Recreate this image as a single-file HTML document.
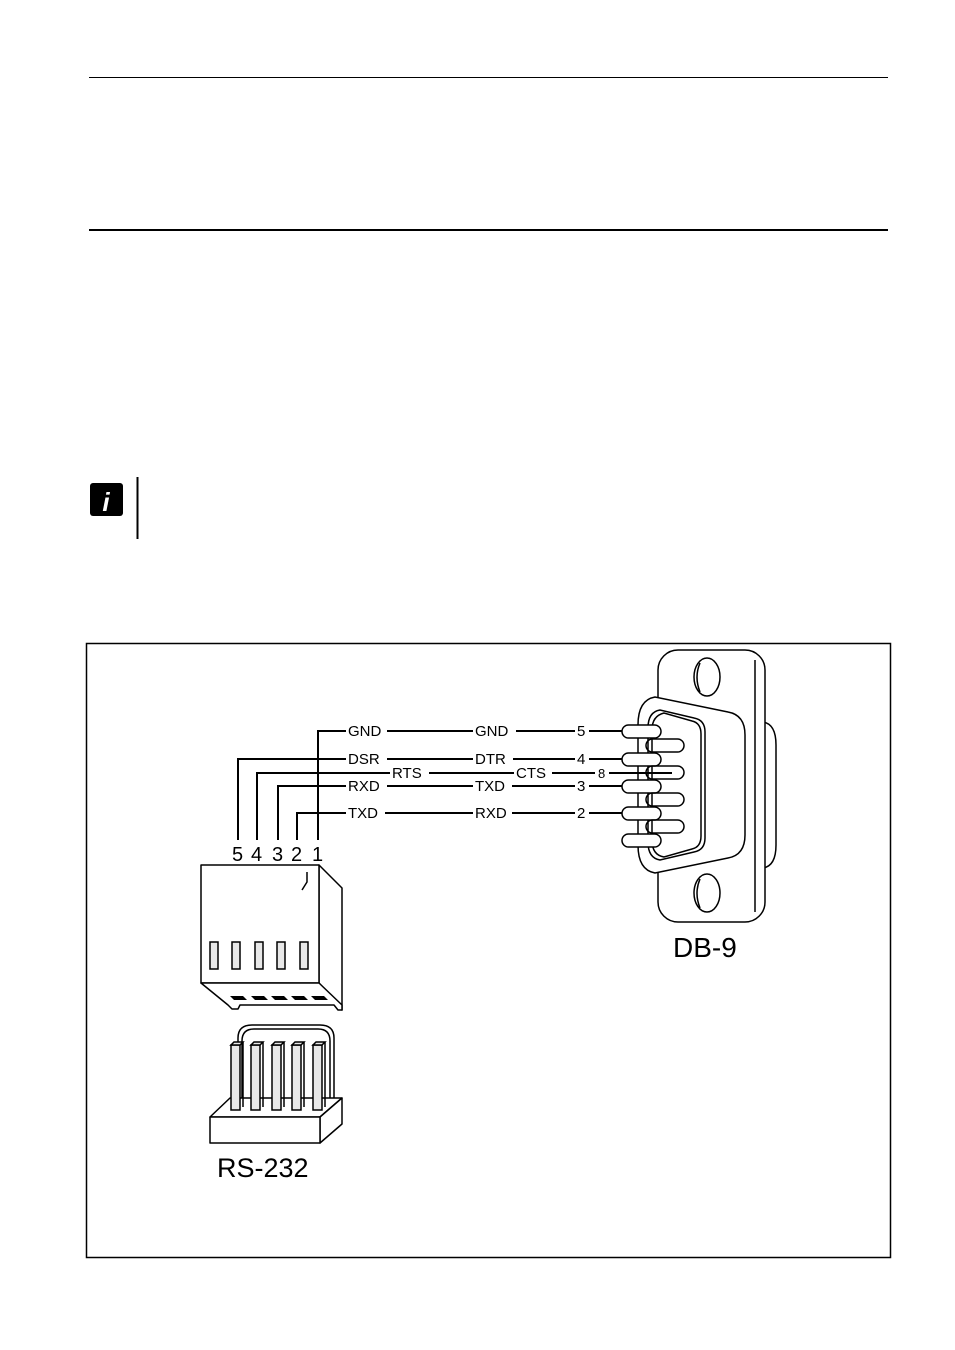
<!DOCTYPE html>
<html><head><meta charset="utf-8"><style>
html,body{margin:0;padding:0;background:#fff;}
body{width:955px;height:1350px;overflow:hidden;}
svg{display:block;}
text{font-family:"Liberation Sans",Arial,sans-serif;fill:#000;}
</style></head><body>
<svg width="955" height="1350" viewBox="0 0 955 1350" xmlns="http://www.w3.org/2000/svg">
<rect width="955" height="1350" fill="#fff"/>
<line x1="89" y1="77.5" x2="888" y2="77.5" stroke="#000" stroke-width="1"/>
<line x1="89" y1="230" x2="888" y2="230" stroke="#000" stroke-width="2"/>
<rect x="90" y="483" width="33" height="33" rx="3" fill="#000"/>
<text x="106" y="511" font-family="Liberation Serif" font-style="italic" font-weight="bold" font-size="26" text-anchor="middle" style="fill:#fff">i</text>
<line x1="137.5" y1="477" x2="137.5" y2="539" stroke="#000" stroke-width="2"/>
<rect x="86.5" y="643.5" width="804" height="614" fill="none" stroke="#000" stroke-width="1.5"/>

<g stroke="#000" stroke-width="2" fill="none">
<polyline points="318,840 318,731 346,731"/>
<line x1="387" y1="731" x2="473" y2="731"/><line x1="516" y1="731" x2="575" y2="731"/><line x1="589" y1="731" x2="625" y2="731"/>
<polyline points="238,840 238,759 346,759"/>
<line x1="387" y1="759" x2="473" y2="759"/><line x1="513" y1="759" x2="575" y2="759"/><line x1="589" y1="759" x2="625" y2="759"/>
<polyline points="257,840 257,773 390,773"/>
<line x1="429" y1="773" x2="514" y2="773"/><line x1="552" y1="773" x2="595" y2="773"/><line x1="609" y1="773" x2="672" y2="773"/>
<polyline points="278,840 278,786 346,786"/>
<line x1="387" y1="786" x2="473" y2="786"/><line x1="512" y1="786" x2="575" y2="786"/><line x1="589" y1="786" x2="625" y2="786"/>
<polyline points="297,840 297,813 346,813"/>
<line x1="385" y1="813" x2="473" y2="813"/><line x1="512" y1="813" x2="575" y2="813"/><line x1="589" y1="813" x2="625" y2="813"/>
</g>
<g font-size="15">
<text x="348" y="736">GND</text><text x="475" y="736">GND</text><text x="577" y="736">5</text>
<text x="348" y="764">DSR</text><text x="475" y="764">DTR</text><text x="577" y="764">4</text>
<text x="392" y="778">RTS</text><text x="516" y="778">CTS</text><text x="598" y="778" font-size="13">8</text>
<text x="348" y="791">RXD</text><text x="475" y="791">TXD</text><text x="577" y="791">3</text>
<text x="348" y="818">TXD</text><text x="475" y="818">RXD</text><text x="577" y="818">2</text>
</g>
<g font-size="20"><text x="232" y="861">5</text><text x="251" y="861">4</text><text x="272" y="861">3</text><text x="291" y="861">2</text><text x="312" y="861">1</text></g>

<g stroke="#000" stroke-width="1.5" fill="#fff" stroke-linejoin="round">
<polygon points="319,865 342,888 342,1010 319,983"/>
<rect x="201" y="865" width="118" height="118"/>
<polygon points="201,983 319,983 342,1005 342,1010 338,1010 334,1005 240,1005 238,1009 232,1009 228,1005"/>
<polyline points="302,890 307,882 307,872" fill="none"/>
</g>
<g stroke="#000" stroke-width="1.5" fill="#e8e8e8">
<rect x="210" y="942" width="8" height="27"/><rect x="232" y="942" width="8" height="27"/><rect x="255" y="942" width="8" height="27"/><rect x="277" y="942" width="8" height="27"/><rect x="300" y="942" width="8" height="27"/>
</g>
<g fill="#000">
<polygon points="230,996 243,996 247,1000 234,1000"/><polygon points="251,996 264,996 268,1000 255,1000"/><polygon points="271,996 284,996 288,1000 275,1000"/><polygon points="291,996 304,996 308,1000 295,1000"/><polygon points="311,996 324,996 328,1000 315,1000"/>
</g>

<g stroke="#000" stroke-width="1.5" fill="#fff" stroke-linejoin="round">
<path d="M238,1100 V1038 Q238,1025 252,1025 H320 Q334,1025 334,1038 V1100"/>
<path d="M242,1100 V1041 Q242,1029 254,1029 H318 Q330,1029 330,1041 V1100" fill="none"/>
<polygon points="210,1117 230,1098 342,1098 320,1117"/>
<polygon points="320,1117 342,1098 342,1124 320,1143"/>
<rect x="210" y="1117" width="110" height="26"/>
</g>
<g stroke="#000" stroke-width="1.5" fill="#e8e8e8">
<rect x="231" y="1045" width="9" height="65"/><polygon points="231,1045 234,1042 243,1042 240,1045"/><line x1="243" y1="1042" x2="243" y2="1107"/>
<rect x="251" y="1045" width="9" height="65"/><polygon points="251,1045 254,1042 263,1042 260,1045"/><line x1="263" y1="1042" x2="263" y2="1107"/>
<rect x="272" y="1045" width="9" height="65"/><polygon points="272,1045 275,1042 284,1042 281,1045"/><line x1="284" y1="1042" x2="284" y2="1107"/>
<rect x="292" y="1045" width="9" height="65"/><polygon points="292,1045 295,1042 304,1042 301,1045"/><line x1="304" y1="1042" x2="304" y2="1107"/>
<rect x="313" y="1045" width="9" height="65"/><polygon points="313,1045 316,1042 325,1042 322,1045"/><line x1="325" y1="1042" x2="325" y2="1107"/>
</g>
<text x="217" y="1177" font-size="27">RS-232</text>

<g stroke="#000" stroke-width="1.5" fill="#fff">
<path d="M763,722 Q776,724 776,745 V845 Q776,866 763,868 Z"/>
<rect x="658" y="650" width="107" height="272" rx="20"/>
<path d="M755,660 V912" fill="none"/>
<ellipse cx="707" cy="677" rx="13" ry="19"/><path d="M700,663 Q694,677 700,692" fill="none"/>
<ellipse cx="707" cy="893" rx="13" ry="19"/><path d="M700,879 Q694,893 700,908" fill="none"/>
<path d="M655,697 Q638,700 638,725 V845 Q638,870 655,873 L728,858 Q745,855 745,835 V735 Q745,715 728,712 Z"/>
<path d="M660,710 Q648,712 648,728 V842 Q648,858 660,860 L694,852 Q705,850 705,838 V732 Q705,720 694,718 Z" fill="none"/>
<path d="M664,713 Q652,716 652,730 V840 Q652,855 664,857 L692,849 Q701,847 701,836 V734 Q701,723 692,721 Z" fill="none"/>
</g>
<g stroke="#000" stroke-width="1.5" fill="#fff">
<rect x="622" y="725" width="39" height="13" rx="6.5"/><rect x="622" y="753" width="39" height="13" rx="6.5"/><rect x="622" y="780" width="39" height="13" rx="6.5"/><rect x="622" y="807" width="39" height="13" rx="6.5"/><rect x="622" y="834" width="39" height="13" rx="6.5"/>
</g>
<g stroke="#000" stroke-width="1.5" fill="none">
<rect x="646" y="739" width="38" height="13" rx="6.5"/><rect x="646" y="766" width="38" height="13" rx="6.5"/><rect x="646" y="793" width="38" height="13" rx="6.5"/><rect x="646" y="820" width="38" height="13" rx="6.5"/>
</g>
<line x1="609" y1="773" x2="672" y2="773" stroke="#000" stroke-width="2"/>
<text x="673" y="957" font-size="28">DB-9</text>
</svg>
</body></html>
